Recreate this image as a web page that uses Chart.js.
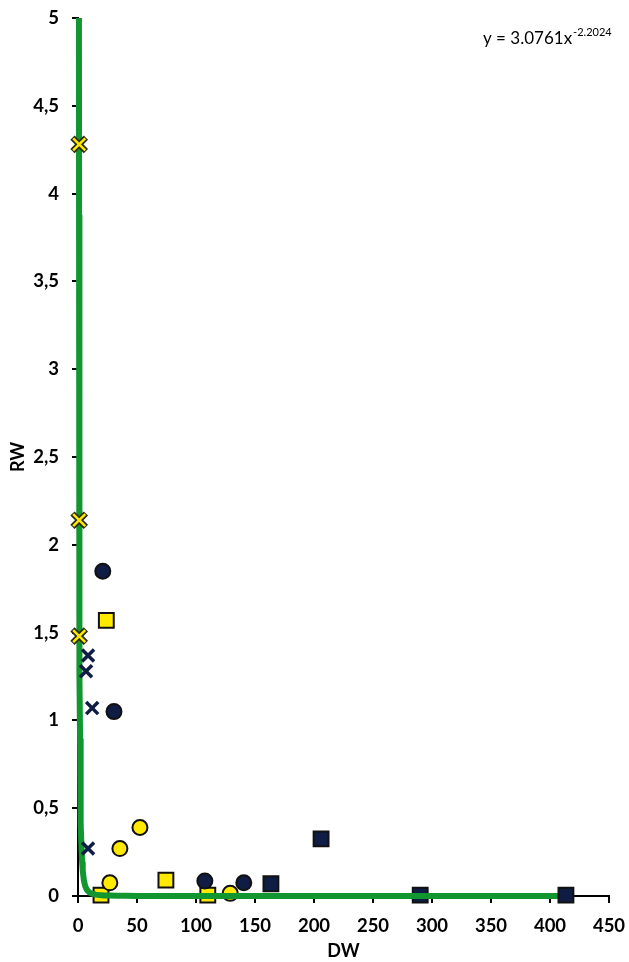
<!DOCTYPE html>
<html><head><meta charset="utf-8">
<script src="https://cdn.jsdelivr.net/npm/chart.js@4/dist/chart.umd.min.js"></script>
<style>html,body{margin:0;padding:0;background:#fff}#wrap{width:629px;height:962px;position:relative}</style>
</head><body><div id="wrap"><canvas id="c"></canvas></div>
<script>
// DW / RW observations grouped by marker
const yellowCrossDW = [1, 1, 1];
const yellowCrossRW = [4.28, 2.14, 1.48];
const navyCrossDW = [8.5, 6.8, 12, 8.5];
const navyCrossRW = [1.37, 1.28, 1.07, 0.27];
const navyCircleDW = [21, 30.5, 107.5, 140.5];
const navyCircleRW = [1.85, 1.05, 0.085, 0.075];
const yellowCircleDW = [27, 35.5, 52.5, 129];
const yellowCircleRW = [0.075, 0.27, 0.39, 0.015];
const yellowSquareDW = [24, 19.5, 74.5, 110];
const yellowSquareRW = [1.57, 0.005, 0.09, 0.005];
const navySquareDW = [163.5, 206, 290, 413.5];
const navySquareRW = [0.07, 0.325, 0.005, 0.005];

// power trend y = a * x^b
const trendA = 3.0761, trendB = -2.2024;
const trendDW = [0.8, 0.9, 1, 1.1, 1.25, 1.5, 1.75, 2, 2.5, 3, 3.5, 4, 5, 6, 7, 8, 10, 12, 15, 18, 22, 27, 33, 40, 50, 65, 80, 100, 130, 170, 220, 280, 350, 413];
const equationText = 'y = 3.0761x';
const equationExp = '-2.2024';

const NAVY = '#0f1d45', YELLOW = '#ffea00', DARK = '#111111', GREEN = '#12962f';
const FONT = 'Lato, "Open Sans", sans-serif';

const pts = (xs, ys) => xs.map((x, i) => ({ x, y: ys[i] }));
const trendPts = trendDW.map(x => ({ x, y: trendA * Math.pow(x, trendB) }));
const markerClip = { left: 12, top: 12, right: 12, bottom: 12 };

const equationPlugin = {
  id: 'equation',
  afterDraw(chart) {
    const ctx = chart.ctx;
    ctx.save();
    ctx.fillStyle = '#000';
    ctx.textBaseline = 'alphabetic';
    ctx.font = '17px ' + FONT;
    const x0 = 483, y0 = 44;
    ctx.fillText(equationText, x0, y0);
    const w = ctx.measureText(equationText).width;
    ctx.font = '11px ' + FONT;
    ctx.fillText(equationExp, x0 + w + 1, y0 - 8);
    ctx.restore();
  }
};

new Chart(document.getElementById('c'), {
  type: 'scatter',
  data: {
    datasets: [
      { data: pts(yellowCrossDW, yellowCrossRW), clip: markerClip, pointStyle: 'crossRot', radius: 8.5, borderColor: YELLOW, borderWidth: 2.5, backgroundColor: YELLOW },
      { data: pts(yellowCrossDW, yellowCrossRW), clip: markerClip, pointStyle: 'crossRot', radius: 9.5, borderColor: '#2b2a12', borderWidth: 6, backgroundColor: '#2b2a12' },
      { data: pts(navyCrossDW, navyCrossRW), clip: markerClip, pointStyle: 'crossRot', radius: 8.5, borderColor: NAVY, borderWidth: 3.5, backgroundColor: NAVY },
      { data: pts(navySquareDW.slice(3), navySquareRW.slice(3)), clip: markerClip, pointStyle: 'rect', radius: 10.5, borderColor: DARK, borderWidth: 2, backgroundColor: NAVY },
      { data: trendPts, clip: { left: 6, top: 0, right: 6, bottom: 6 }, showLine: true, pointRadius: 0, borderColor: GREEN, borderWidth: 6, tension: 0, fill: false },
      { data: pts(navyCircleDW, navyCircleRW), clip: markerClip, pointStyle: 'circle', radius: 7.5, borderColor: DARK, borderWidth: 2, backgroundColor: NAVY },
      { data: pts(yellowCircleDW, yellowCircleRW), clip: markerClip, pointStyle: 'circle', radius: 7.5, borderColor: DARK, borderWidth: 2, backgroundColor: YELLOW },
      { data: pts(yellowSquareDW, yellowSquareRW), clip: markerClip, pointStyle: 'rect', radius: 10.5, borderColor: DARK, borderWidth: 2, backgroundColor: YELLOW },
      { data: pts(navySquareDW.slice(0, 3), navySquareRW.slice(0, 3)), clip: markerClip, pointStyle: 'rect', radius: 10.5, borderColor: DARK, borderWidth: 2, backgroundColor: NAVY }
    ]
  },
  options: {
    responsive: true,
    maintainAspectRatio: false,
    animation: false,
    layout: { padding: { left: 0, top: 18, right: 20, bottom: 0 } },
    plugins: { legend: { display: false }, tooltip: { enabled: false } },
    elements: { point: { hoverRadius: 0 } },
    scales: {
      x: {
        type: 'linear', min: 0, max: 450,
        afterFit(s) { s.height = 66; s.paddingLeft = 0; s.paddingRight = 0; },
        border: { color: '#000', width: 2 },
        grid: { drawOnChartArea: false, color: '#000', lineWidth: 2, tickLength: 7 },
        ticks: { stepSize: 50, color: '#000', padding: 12, maxRotation: 0, minRotation: 0, font: { family: FONT, size: 18.5, weight: 'bold' } },
        title: { display: true, text: 'DW', color: '#000', padding: { top: 0, bottom: 0 }, font: { family: FONT, size: 18, weight: 'bold' } }
      },
      y: {
        type: 'linear', min: 0, max: 5,
        afterFit(s) { s.width = 78; s.paddingTop = 0; s.paddingBottom = 0; },
        border: { color: '#000', width: 2 },
        grid: { drawOnChartArea: false, color: '#000', lineWidth: 2, tickLength: 6 },
        ticks: { stepSize: 0.5, color: '#000', padding: 13, font: { family: FONT, size: 18.5, weight: 'bold' },
          callback: v => String(v).replace('.', ',') },
        title: { display: true, text: 'RW', color: '#000', padding: { top: 7, bottom: 0 }, font: { family: FONT, size: 18, weight: 'bold' } }
      }
    }
  },
  plugins: [equationPlugin]
});
</script></body></html>
